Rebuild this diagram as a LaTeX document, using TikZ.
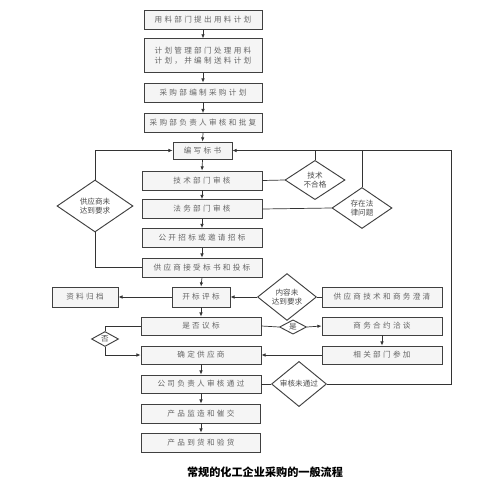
\documentclass[tikz,border=0pt]{standalone}
\usepackage{fontspec}
\newfontfamily\cjk[LetterSpace=30]{Noto Sans CJK SC}
\newfontfamily\cjkcap{Noto Sans CJK SC}
\usetikzlibrary{shapes.geometric,arrows.meta}

\tikzset{
  box/.style={draw=black!75, line width=0.8pt, fill=gray!8, text=black!60,
    inner sep=0pt, align=center, minimum height=0.57cm,
    font=\cjk\fontsize{6.5}{9}\selectfont},
  dec/.style={diamond, draw=black!75, line width=0.8pt, fill=white, text=black!70,
    inner sep=0pt, align=center, font=\cjkcap\fontsize{6.5}{8}\selectfont},
  arr/.style={-{Latex[length=3.5pt,width=3pt]}},
  conn/.style={draw=black!80, line width=0.6pt}
}

\begin{document}
\begin{tikzpicture}[x=0.03cm, y=-0.03cm, conn]
  \useasboundingbox (0,0) rectangle (500,500);

  \node[box, minimum width=3.54cm]                      (planN)     at (203,20)    {用料部门提出用料计划};
  \node[box, minimum width=3.54cm, minimum height=1cm]  (handleN)   at (203,55.5)  {计划管理部门处理用料\\计划，并编制送料计划};
  \node[box, minimum width=3.54cm]                      (buyN)      at (203,92.5)  {采购部编制采购计划};
  \node[box, minimum width=3.54cm]                      (approveN)  at (203,123)   {采购部负责人审核和批复};
  \node[box, minimum width=1.77cm, minimum height=0.51cm] (bookN)   at (202.5,150.5) {编写标书};
  \node[box, minimum width=3.6cm]                       (techN)     at (202,180.5) {技术部门审核};
  \node[box, minimum width=3.6cm]                       (lawN)      at (202,209)   {法务部门审核};
  \node[box, minimum width=3.6cm]                       (tenderN)   at (202,238)   {公开招标或邀请招标};
  \node[box, minimum width=3.6cm]                       (bidN)      at (202,267.5) {供应商接受标书和投标};
  \node[box, minimum width=1.74cm, minimum height=0.6cm] (openN)    at (201,297)   {开标评标};
  \node[box, minimum width=1.98cm, minimum height=0.6cm] (archiveN) at (85,297)    {资料归档};
  \node[box, minimum width=3.6cm, minimum height=0.6cm] (clarifyN)  at (382,297)   {供应商技术和商务澄清};
  \node[box, minimum width=3.6cm, minimum height=0.54cm] (talkN)    at (201,326)   {是否议标};
  \node[box, minimum width=3.6cm, minimum height=0.54cm] (contractN) at (382,326)  {商务合约洽谈};
  \node[box, minimum width=3.6cm, minimum height=0.54cm] (deptN)    at (382,355)   {相关部门参加};
  \node[box, minimum width=3.6cm, minimum height=0.54cm] (chooseN)  at (201,355)   {确定供应商};
  \node[box, minimum width=3.6cm, minimum height=0.54cm] (bossN)    at (201,384)   {公司负责人审核通过};
  \node[box, minimum width=3.57cm]                      (monitorN)  at (201,413.5) {产品监造和催交};
  \node[box, minimum width=3.57cm]                      (receiveN)  at (201,442.5) {产品到货和验货};

  \node[dec, minimum width=1.8cm,  minimum height=1.17cm] (techFailD)    at (315,180) {技术\\不合格};
  \node[dec, minimum width=1.8cm,  minimum height=1.23cm] (lawIssueD)    at (362,208) {存在法\\律问题};
  \node[dec, minimum width=2.28cm, minimum height=1.56cm] (supFailD)     at (95,206)  {供应商未\\达到要求};
  \node[dec, minimum width=1.77cm, minimum height=1.2cm]  (contentFailD) at (287,297) {内容未\\达到要求};
  \node[dec, minimum width=0.81cm, minimum height=0.42cm] (yesD)         at (293,327) {是};
  \node[dec, minimum width=0.81cm, minimum height=0.45cm] (noD)          at (105,339) {否};
  \node[dec, minimum width=1.65cm, minimum height=1.14cm] (rejectD)      at (299,384) {审核未通过};

  \node[font=\cjkcap\bfseries\fontsize{9.5}{11}\selectfont] (titleN) at (265,472) {常规的化工企业采购的一般流程};

  \coordinate (rTop) at (451,150.5);
  \coordinate (rBot) at (451,384);

  % main column
  \draw[arr] (planN.south)    -- (handleN.north);
  \draw[arr] (handleN.south)  -- (buyN.north);
  \draw[arr] (buyN.south)     -- (approveN.north);
  \draw[arr] (approveN.south) -- (bookN.north);
  \draw[arr] (bookN.south)    -- (techN.north);
  \draw[arr] (techN.south)    -- (lawN.north);
  \draw[arr] (lawN.south)     -- (tenderN.north);
  \draw[arr] (tenderN.south)  -- (bidN.north);
  \draw[arr] (bidN.south)     -- (openN.north);
  \draw[arr] (openN.south)    -- (talkN.north);
  \draw[arr] (chooseN.south)  -- (bossN.north);
  \draw[arr] (bossN.south)    -- (monitorN.north);
  \draw[arr] (monitorN.south) -- (receiveN.north);

  % loops back to the bid book
  \draw (techN.east) -- (techFailD.west);
  \draw (lawN.east)  -- (lawIssueD.west);
  \draw (techFailD.north) -- (techFailD.north |- rTop);
  \draw (lawIssueD.north) -- (lawIssueD.north |- rTop);
  \draw (bossN.east) -- (rejectD.west);
  \draw[arr] (rejectD.east) -- (rBot) -- (rTop) -- (bookN.east);
  \draw (bidN.west) -| (supFailD.south);
  \draw[arr] (supFailD.north) |- (bookN.west);

  % bid opening
  \draw[arr] (openN.west) -- (archiveN.east);
  \draw (clarifyN.west) -- (contentFailD.east);
  \draw[arr] (contentFailD.west) -- (openN.east);

  % negotiation
  \draw (talkN.east) -- (yesD.west);
  \draw[arr] (yesD.east) -- (contractN.west);
  \draw[arr] (contractN.south) -- (deptN.north);
  \draw[arr] (deptN.west) -- (chooseN.east);
  \draw (talkN.west) -| (noD.north);
  \draw[arr] (noD.south) |- (chooseN.west);
\end{tikzpicture}
\end{document}
